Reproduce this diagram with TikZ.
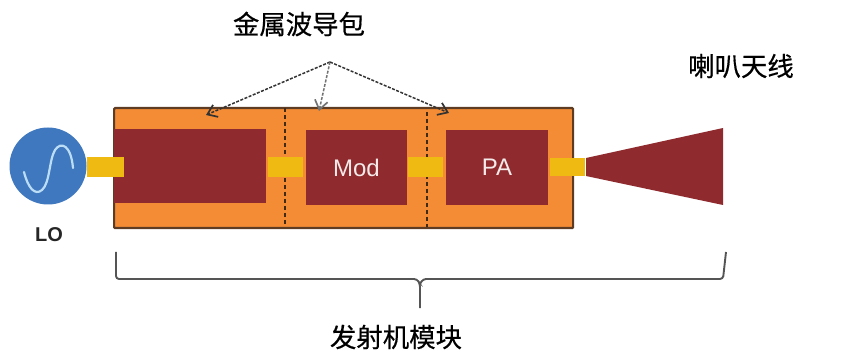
\documentclass[tikz,border=0pt]{standalone}
\usepackage{fontspec}
\setmainfont{Liberation Sans}
\newfontfamily\cjk[FakeBold=0.5]{Noto Sans CJK SC}
\usetikzlibrary{arrows.meta,positioning}
\definecolor{wgorange}{HTML}{F48C35}
\definecolor{wgred}{HTML}{8F2B2E}
\definecolor{wgyellow}{HTML}{EFBB12}
\definecolor{wgblue}{HTML}{3F78BE}
\definecolor{wgedge}{HTML}{5E3C24}
\definecolor{wgsine}{HTML}{BBDDF5}
\definecolor{wgbrace}{HTML}{555555}
\tikzset{
  px/.style={x=1pt,y=-1pt},
  block/.style={fill=wgred,draw=none,inner sep=0pt,outer sep=0pt,text=white!90!wgred,font=\fontsize{24}{26}\selectfont},
  stub/.style={fill=wgyellow,draw=none,inner sep=0pt,outer sep=0pt},
  captext/.style={font=\cjk\fontsize{26.4}{28}\selectfont,text=black,inner sep=0pt},
  callout/.style={draw=black!80,line width=1.5pt,dash pattern=on 3pt off 1.5pt,-{Straight Barb[length=9pt,width=13pt,line width=1.7pt]}},
  divider/.style={draw=wgedge!70!black,line width=2.4pt,dash pattern=on 4.5pt off 2.5pt},
  bracket/.style={draw=wgbrace,line width=1.9pt,rounded corners=3pt}
}
\begin{document}
\begin{tikzpicture}[px]
\useasboundingbox (0,0) rectangle (865,358);
% LO
\node[circle,fill=wgblue,inner sep=0pt,minimum size=77pt] (lo) at (48,166) {};
\draw[wgsine,line width=2.2pt,line cap=round] (24,172) .. controls (28,188) and (35,196) .. (42,190) .. controls (50,183) and (49,160) .. (55,150) .. controls (61,141) and (71,145) .. (73,168);
\node[font=\bfseries\fontsize{20}{22}\selectfont,text=black!85,inner sep=0pt] (lolabel) at (49,235) {LO};
% Module
\node[fill=wgorange,draw=wgedge,line width=2.2pt,rounded corners=1pt,minimum width=459pt,minimum height=120pt,inner sep=0pt,anchor=north west] (module) at (113,107) {};
% dividers
\coordinate (d1t) at (285,108);
\coordinate (d1b) at (285,226);
\coordinate (d2t) at (427,112);
\coordinate (d2b) at (427,227);
\draw[divider] (d1t) -- (d1b);
\draw[divider] (d2t) -- (d2b);
% blocks
\node[block,minimum width=152pt,minimum height=74pt,anchor=north west] (lna) at (114,129) {};
\node[block,minimum width=101pt,minimum height=75pt,anchor=north west] (mod) at (306,130) {Mod};
\node[block,minimum width=102pt,minimum height=75pt,anchor=north west] (pa) at (446,130) {PA};
% stubs
\node[stub,minimum width=37pt,minimum height=20pt] (s1) at (105.5,167) {};
\node[stub,minimum width=35pt,minimum height=20pt] (s2) at (285.5,167) {};
\node[stub,minimum width=35pt,minimum height=20pt] (s3) at (425.5,167) {};
\node[stub,minimum width=35pt,minimum height=18pt] (s4) at (567.5,167) {};
% horn
\fill[wgred] (586,158) -- (723,128) -- (723,205) -- (586,176) -- cycle;
% callouts
\coordinate (apex) at (330,62);
\coordinate (a1) at (206,115);
\coordinate (a2) at (319,111);
\coordinate (a3) at (449,113);
\draw[callout] (apex) -- (a1);
\draw[callout,draw=black!55] (apex) -- (a2);
\draw[callout] (apex) -- (a3);
% brace
\coordinate (bl) at (116,252);
\coordinate (br) at (726,252);
\coordinate (bm) at (420,308);
\draw[bracket] (bl) -- (116,279) -- (417,279) -- (420,284) -- (bm);
\draw[bracket] (420,284) -- (423,279) -- (723,279) -- (br);
% captions
\node[captext] (c1) at (299,24) {金属波导包};
\node[captext] (c2) at (741,66) {喇叭天线};
\node[captext] (c3) at (396,337) {发射机模块};
\end{tikzpicture}
\end{document}
